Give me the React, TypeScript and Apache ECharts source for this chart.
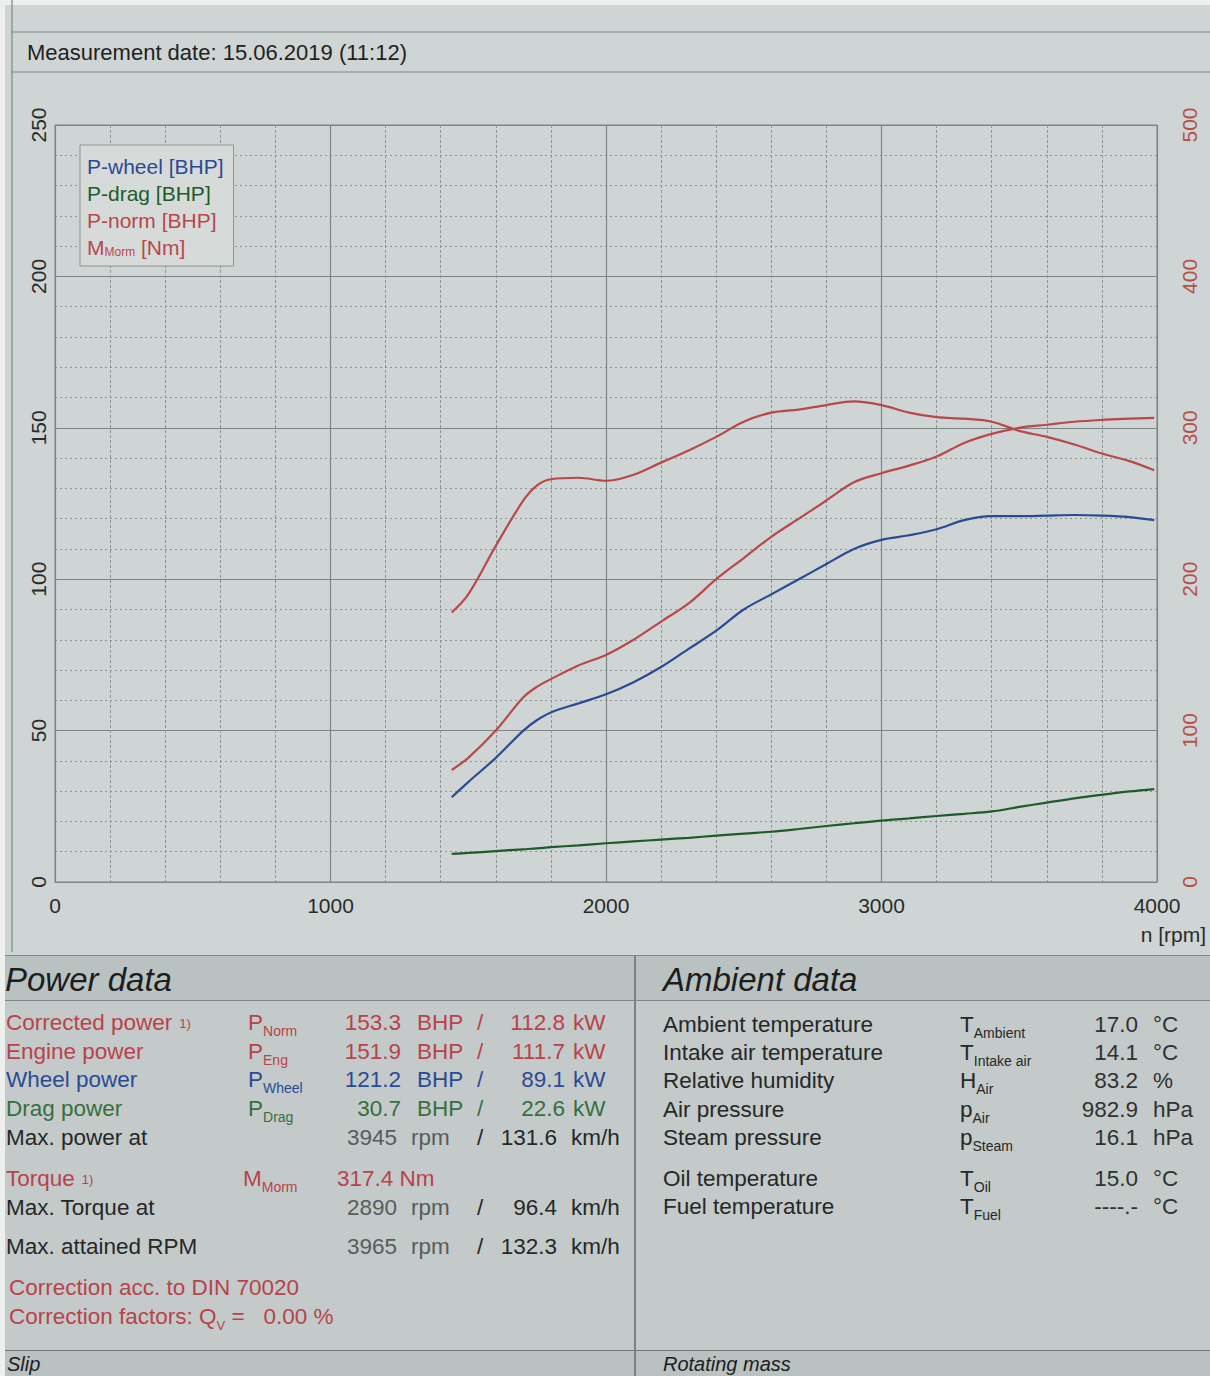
import React, { useEffect, useRef } from "react";
import * as echarts from "echarts";

// ---------- chart data ----------
const rpm = [1440, 1500, 1600, 1700, 1750, 1800, 1900, 2000, 2100, 2200, 2300, 2400, 2500, 2600, 2700, 2800, 2900, 3000, 3100, 3200, 3300, 3400, 3500, 3600, 3700, 3800, 3900, 3990];
const pWheel = [28, 33, 41, 50, 53.5, 56, 59, 62, 66, 71, 77, 83, 90, 95, 100, 105, 110, 113, 114.5, 116.5, 119.5, 120.8, 120.8, 121, 121.2, 121, 120.5, 119.5];
const pNorm = [37, 41, 50, 61, 64.5, 67, 71.5, 75, 80, 86, 92, 100, 107, 114, 120, 126, 132, 135, 137.5, 140.5, 145, 148, 150, 151, 152, 152.6, 153, 153.3];
const mNorm = [178, 190, 222, 252, 262, 266, 267, 265, 269, 277, 285, 294, 304, 310, 312, 315, 317.4, 315, 310, 307, 306, 304, 298, 294, 289, 283, 278, 272];
const pDrag = [9.3, 9.6, 10.2, 10.8, 11.1, 11.5, 12.1, 12.8, 13.4, 14, 14.6, 15.3, 16, 16.6, 17.5, 18.5, 19.4, 20.3, 21, 21.8, 22.5, 23.3, 24.8, 26.2, 27.6, 28.8, 29.9, 30.7];

const seriesNames = ["P-wheel [BHP]", "P-drag [BHP]", "P-norm [BHP]", "M_Morm [Nm]"];
const xTicks = { min: 0, max: 4000, interval: 1000 };
const yLeftTicks = { min: 0, max: 250, interval: 50 };
const yRightTicks = { min: 0, max: 500, interval: 100 };
const xAxisTitle = "n [rpm]";
const measurementDate = "Measurement date: 15.06.2019 (11:12)";

// ---------- table data ----------
const powerLabels = ["Corrected power", "Engine power", "Wheel power", "Drag power", "Max. power at", "Torque", "Max. Torque at", "Max. attained RPM"];
const powerSymbols = [["P", "Norm"], ["P", "Eng"], ["P", "Wheel"], ["P", "Drag"], null, ["M", "Morm"], null, null];
const powerBhp = ["153.3", "151.9", "121.2", "30.7"];
const powerKw = ["112.8", "111.7", "89.1", "22.6"];
const torqueValue = "317.4";
const rpmValues = ["3945", "2890", "3965"];
const speedValues = ["131.6", "96.4", "132.3"];
const correctionNorm = "Correction acc. to DIN 70020";
const correctionFactor = "0.00 %";
const sectionTitles = ["Power data", "Ambient data", "Slip", "Rotating mass"];

const ambientLabels = ["Ambient temperature", "Intake air temperature", "Relative humidity", "Air pressure", "Steam pressure", "Oil temperature", "Fuel temperature"];
const ambientSymbols = [["T", "Ambient"], ["T", "Intake air"], ["H", "Air"], ["p", "Air"], ["p", "Steam"], ["T", "Oil"], ["T", "Fuel"]];
const ambientValues = ["17.0", "14.1", "83.2", "982.9", "16.1", "15.0", "----.-"];
const ambientUnits = ["°C", "°C", "%", "hPa", "hPa", "°C", "°C"];

const RED = "#b8434b";
const BLUE = "#2b4a94";
const GREEN = "#35703f";
const DARK = "#262828";
const GREY = "#585c5c";
const FONT = "'Liberation Sans', Arial, sans-serif";
const FS = 22.5;

function T(props: { x: number; y: number; color?: string; size?: number; right?: boolean; italic?: boolean; children: React.ReactNode }) {
  const size = props.size ?? FS;
  return (
    <span
      style={{
        position: "absolute",
        left: props.x,
        top: props.y - size * 0.62,
        fontSize: size,
        lineHeight: `${size * 1.2}px`,
        color: props.color ?? DARK,
        whiteSpace: "nowrap",
        fontStyle: props.italic ? "italic" : "normal",
        transform: props.right ? "translateX(-100%)" : undefined,
      }}
    >
      {props.children}
    </span>
  );
}

function Sym({ x, y, sym, color }: { x: number; y: number; sym: string[]; color: string }) {
  return (
    <T x={x} y={y} color={color}>
      {sym[0]}
      <span style={{ fontSize: 14, position: "relative", top: 6 }}>{sym[1]}</span>
    </T>
  );
}

export default function App() {
  const ref = useRef<HTMLDivElement>(null);

  useEffect(() => {
    document.body.style.margin = "0";
    document.body.style.overflow = "hidden";
    const chart = echarts.init(ref.current!, undefined, { renderer: "svg" });
    const lineColors = [BLUE, "#1f5a2a", "#b8484a", "#b8484a"];
    const datas = [pWheel, pDrag, pNorm, mNorm];
    chart.setOption({
      animation: false,
      textStyle: { fontFamily: FONT },
      title: {
        text: measurementDate,
        left: 27,
        top: 41,
        padding: 0,
        textStyle: { fontSize: 22, fontWeight: "normal", color: "#222", fontFamily: FONT },
      },
      legend: {
        orient: "vertical",
        left: 80,
        top: 145,
        icon: "none",
        itemWidth: 0,
        itemHeight: 0,
        itemGap: 6,
        padding: [11, 10, 8, 2],
        backgroundColor: "rgba(214,219,218,0.95)",
        borderColor: "#8d9494",
        borderWidth: 1,
        selectedMode: false,
        textStyle: {
          fontSize: 21,
          fontFamily: FONT,
          rich: {
            m: { fontSize: 21, color: "#b8484a", fontFamily: FONT },
            s: { fontSize: 12, color: "#b8484a", verticalAlign: "bottom", fontFamily: FONT },
          },
        },
        formatter: (name: string) => (name.startsWith("M_") ? "{m|M}{s|Morm}{m| [Nm]}" : name),
        data: seriesNames.map((n, i) => ({ name: n, textStyle: { color: lineColors[i] } })),
      },
      grid: { left: 55, right: 53, top: 125, bottom: 70, show: true, borderColor: "#7d8585", borderWidth: 1 },
      xAxis: {
        type: "value",
        min: xTicks.min,
        max: xTicks.max,
        interval: xTicks.interval,
        axisLine: { show: true, lineStyle: { color: "#7d8585" } },
        axisTick: { show: false },
        axisLabel: { fontSize: 21, color: "#2a2c2c", margin: 13, formatter: (v: number) => String(v) },
        splitLine: { show: true, lineStyle: { color: "#7d8585", width: 1.2 } },
        minorTick: { show: false, splitNumber: 5 },
        minorSplitLine: { show: true, lineStyle: { color: "#8e9595", type: [3, 2], width: 1 } },
      },
      yAxis: [
        {
          type: "value",
          min: yLeftTicks.min,
          max: yLeftTicks.max,
          interval: yLeftTicks.interval,
          axisLine: { show: false },
          axisTick: { show: false },
          axisLabel: { fontSize: 21, color: "#2a2c2c", rotate: 90, margin: 6 },
          splitLine: { show: true, lineStyle: { color: "#7d8585", width: 1.2 } },
          minorTick: { show: false, splitNumber: 5 },
          minorSplitLine: { show: true, lineStyle: { color: "#8e9595", type: [2, 3], width: 1 } },
        },
        {
          type: "value",
          min: yRightTicks.min,
          max: yRightTicks.max,
          interval: yRightTicks.interval,
          position: "right",
          axisLine: { show: false },
          axisTick: { show: false },
          axisLabel: { fontSize: 21, color: "#b5524a", rotate: 90, margin: 22 },
          splitLine: { show: false },
        },
      ],
      graphic: [
        { type: "line", shape: { x1: 12, y1: 32, x2: 1210, y2: 32 }, style: { stroke: "#7f8787", lineWidth: 1.2 } },
        { type: "line", shape: { x1: 12, y1: 72, x2: 1210, y2: 72 }, style: { stroke: "#7f8787", lineWidth: 1.2 } },
        { type: "line", shape: { x1: 12, y1: 0, x2: 12, y2: 955 }, style: { stroke: "#7f8787", lineWidth: 1.2 } },
        {
          type: "text",
          right: 4,
          top: 924,
          style: { text: xAxisTitle, fontSize: 21, fill: "#2a2c2c", fontFamily: FONT },
        },
      ],
      series: seriesNames.map((n, i) => ({
        name: n,
        type: "line",
        yAxisIndex: i === 3 ? 1 : 0,
        smooth: 0.35,
        showSymbol: false,
        symbol: "none",
        lineStyle: { color: lineColors[i], width: 2.2 },
        itemStyle: { color: lineColors[i] },
        data: rpm.map((r, k) => [r, datas[i][k]]),
      })),
    });
    return () => chart.dispose();
  }, []);

  const powerY = [1023, 1052, 1080, 1109, 1138, 1179, 1208, 1247];
  const powerColors = [RED, RED, BLUE, GREEN, DARK, RED, DARK, DARK];
  const ambientY = [1025, 1053, 1081, 1110, 1138, 1179, 1207];

  return (
    <div
      style={{
        position: "relative",
        width: 1210,
        height: 1376,
        overflow: "hidden",
        background: "#cfd5d4",
        fontFamily: FONT,
      }}
    >
      <div style={{ position: "absolute", left: 0, top: 0, width: 1210, height: 5, background: "#eef0f0" }} />
      <div style={{ position: "absolute", left: 0, top: 0, width: 5, height: 1376, background: "#eef0f0" }} />
      <div ref={ref} style={{ position: "absolute", left: 0, top: 0, width: 1210, height: 952 }} />

      {/* bottom tables */}
      <div style={{ position: "absolute", left: 5, top: 955, width: 1205, height: 421, background: "#c3cac9", borderTop: "1.5px solid #808888" }} />
      <div style={{ position: "absolute", left: 5, top: 956, width: 1205, height: 44, background: "#b9c1c1", borderBottom: "1.5px solid #808888" }} />
      <div style={{ position: "absolute", left: 5, top: 1350, width: 1205, height: 30, background: "#b9c1c1", borderTop: "1.5px solid #6f7777" }} />
      <div style={{ position: "absolute", left: 634, top: 955, width: 1.5, height: 421, background: "#7a8282" }} />

      <T x={5} y={980} size={33} italic color="#1c1e1e">{sectionTitles[0]}</T>
      <T x={663} y={980} size={33} italic color="#1c1e1e">{sectionTitles[1]}</T>
      <T x={7} y={1364} size={20} italic color="#1c1e1e">{sectionTitles[2]}</T>
      <T x={663} y={1364} size={20} italic color="#1c1e1e">{sectionTitles[3]}</T>

      {powerLabels.map((l, i) => (
        <T key={"pl" + i} x={6} y={powerY[i]} color={powerColors[i]}>
          {l}
          {(i === 0 || i === 5) && <span style={{ fontSize: 13, position: "relative", top: -2, marginLeft: 7 }}>1)</span>}
        </T>
      ))}
      {powerSymbols.map((s, i) =>
        s ? <Sym key={"ps" + i} x={i === 5 ? 243 : 248} y={powerY[i]} sym={s} color={powerColors[i]} /> : null
      )}
      {powerBhp.map((v, i) => (
        <React.Fragment key={"pb" + i}>
          <T x={401} y={powerY[i]} right color={powerColors[i]}>{v}</T>
          <T x={417} y={powerY[i]} color={powerColors[i]}>BHP</T>
          <T x={477} y={powerY[i]} color={powerColors[i]}>/</T>
          <T x={565} y={powerY[i]} right color={powerColors[i]}>{powerKw[i]}</T>
          <T x={573} y={powerY[i]} color={powerColors[i]}>kW</T>
        </React.Fragment>
      ))}
      <T x={337} y={powerY[5]} color={RED}>{torqueValue} Nm</T>
      {rpmValues.map((v, i) => {
        const y = [powerY[4], powerY[6], powerY[7]][i];
        return (
          <React.Fragment key={"rv" + i}>
            <T x={397} y={y} right color={GREY}>{v}</T>
            <T x={411} y={y} color={GREY}>rpm</T>
            <T x={477} y={y} color={DARK}>/</T>
            <T x={557} y={y} right color={DARK}>{speedValues[i]}</T>
            <T x={571} y={y} color={DARK}>km/h</T>
          </React.Fragment>
        );
      })}
      <T x={9} y={1288} color={RED}>{correctionNorm}</T>
      <T x={9} y={1317} color={RED}>
        Correction factors: Q<span style={{ fontSize: 13, position: "relative", top: 6 }}>V</span> =&nbsp;&nbsp; {correctionFactor}
      </T>

      {ambientLabels.map((l, i) => (
        <React.Fragment key={"am" + i}>
          <T x={663} y={ambientY[i]} color={DARK}>{l}</T>
          <Sym x={960} y={ambientY[i]} sym={ambientSymbols[i]} color={DARK} />
          <T x={1138} y={ambientY[i]} right color={"#303232"}>{ambientValues[i]}</T>
          <T x={1153} y={ambientY[i]} color={"#303232"}>{ambientUnits[i]}</T>
        </React.Fragment>
      ))}
    </div>
  );
}
